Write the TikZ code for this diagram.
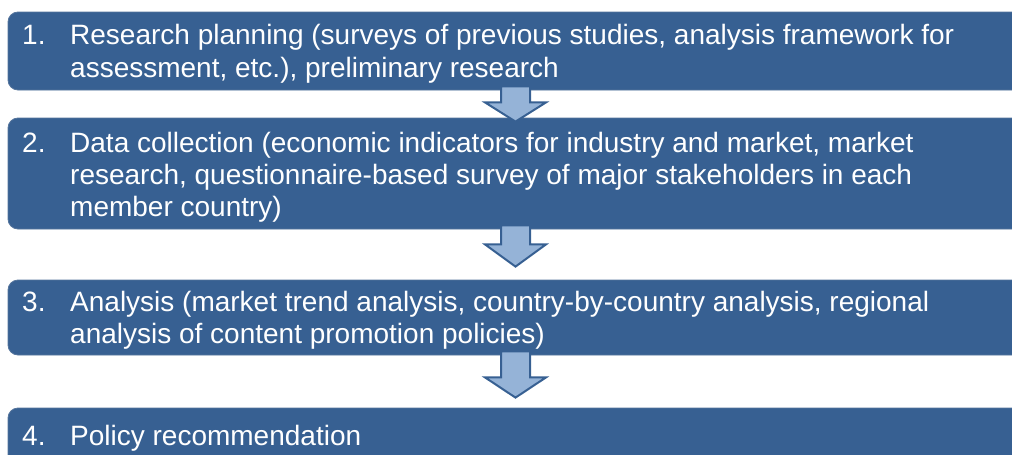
\documentclass[tikz,border=0pt]{standalone}
\usepackage{fontspec}
\setmainfont{Liberation Sans}
\usetikzlibrary{calc}
\definecolor{boxblue}{RGB}{55,96,146}
\definecolor{boxedge}{RGB}{84,116,156}
\definecolor{arrowfill}{RGB}{149,179,215}
\tikzset{
  stagebox/.style={rectangle, rounded corners=10pt, fill=boxblue, draw=boxedge,
    line width=0.8pt, minimum width=1015pt, inner sep=0pt},
  stagetext/.style={anchor=base west, inner sep=0pt, text=white,
    font=\fontsize{28}{32}\selectfont},
  downarrow/.style={fill=arrowfill, draw=boxblue, line width=2pt, line join=miter},
}
\begin{document}
\begin{tikzpicture}[x=1pt,y=-1pt]
\useasboundingbox (0,0) rectangle (1012,455);
\clip (0,0) rectangle (1012,455);

% stage boxes (they run past the right edge)
\node[stagebox, minimum height=78pt]  (box1) at (515.5,51)    {};
\node[stagebox, minimum height=111pt] (box2) at (515.5,173.5) {};
\node[stagebox, minimum height=75pt]  (box3) at (515.5,317.5) {};
\node[stagebox, minimum height=78pt]  (box4) at (515.5,447)   {};

% block arrows between the stages
\draw[downarrow] ($(box1.south)+(-14.5,-4)$) -- ($(box1.south)+(-14.5,12)$)
  -- ($(box1.south)+(-30.5,12)$) -- ($(box2.north)+(0,4)$)
  -- ($(box1.south)+(30.5,12)$) -- ($(box1.south)+(14.5,12)$)
  -- ($(box1.south)+(14.5,-4)$) -- cycle;
\draw[downarrow] ($(box2.south)+(-14.5,-4)$) -- ($(box2.south)+(-14.5,15)$)
  -- ($(box2.south)+(-30.5,15)$) -- ($(box3.north)+(0,-13)$)
  -- ($(box2.south)+(30.5,15)$) -- ($(box2.south)+(14.5,15)$)
  -- ($(box2.south)+(14.5,-4)$) -- cycle;
\draw[downarrow] ($(box3.south)+(-14.5,-4)$) -- ($(box3.south)+(-14.5,22)$)
  -- ($(box3.south)+(-30.5,22)$) -- ($(box4.north)+(0,-10)$)
  -- ($(box3.south)+(30.5,22)$) -- ($(box3.south)+(14.5,22)$)
  -- ($(box3.south)+(14.5,-4)$) -- cycle;

% stage 1
\node[stagetext] (n1)  at (22,44.5) {1.};
\node[stagetext] (t1a) at (70,44.5) {Research planning (surveys of previous studies, analysis framework for};
\node[stagetext] (t1b) at (70,77.5) {assessment, etc.), preliminary research};
% stage 2
\node[stagetext] (n2)  at (22,152) {2.};
\node[stagetext] (t2a) at (70,152) {Data collection (economic indicators for industry and market, market};
\node[stagetext] (t2b) at (70,184) {research, questionnaire-based survey of major stakeholders in each};
\node[stagetext] (t2c) at (70,216) {member country)};
% stage 3
\node[stagetext] (n3)  at (22,311) {3.};
\node[stagetext] (t3a) at (70,311) {Analysis (market trend analysis, country-by-country analysis, regional};
\node[stagetext] (t3b) at (70,343) {analysis of content promotion policies)};
% stage 4
\node[stagetext] (n4)  at (22,445) {4.};
\node[stagetext] (t4a) at (70,445) {Policy recommendation};
\end{tikzpicture}
\end{document}
